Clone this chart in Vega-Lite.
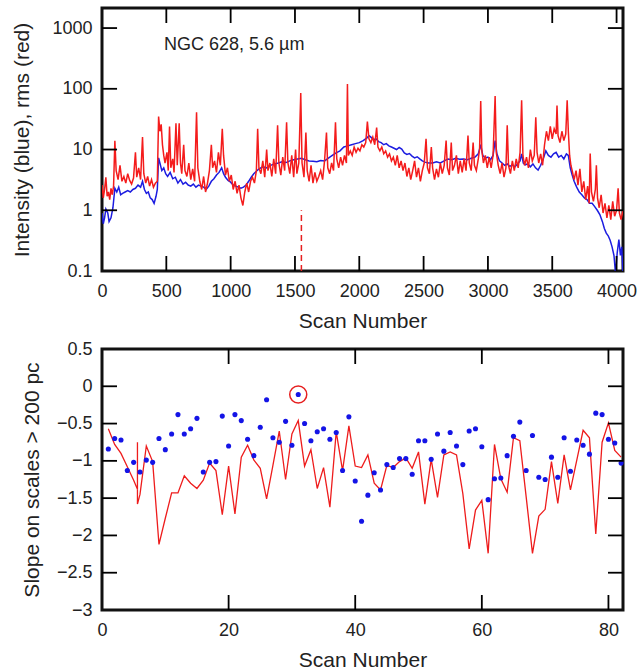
{
  "$schema": "https://vega.github.io/schema/vega-lite/v6.json",
  "padding": {"left": 10, "top": 5, "right": 5, "bottom": 2},
  "spacing": 5,
  "config": {
    "font": "Liberation Sans",
    "view": {"stroke": "#111111", "strokeWidth": 3},
    "axis": {
      "labelFont": "Liberation Sans",
      "titleFont": "Liberation Sans",
      "labelFontSize": 18,
      "titleFontSize": 21,
      "titleFontWeight": "normal",
      "labelColor": "#222222",
      "titleColor": "#222222",
      "labelPadding": 10,
      "domain": false,
      "ticks": false,
      "grid": false,
      "labelOverlap": false,
      "labelFlush": false
    }
  },
  "datasets": {
    "blue": [
      {"s":0,"v":0.9},{"s":10,"v":0.6},{"s":20,"v":0.75},{"s":30,"v":1.05},{"s":45,"v":0.9},{"s":55,"v":0.65},{"s":70,"v":0.75},{"s":85,"v":1.1},{"s":100,"v":2.3},{"s":115,"v":2.0},{"s":130,"v":2.4},{"s":145,"v":1.8},{"s":160,"v":1.9},{"s":180,"v":2.0},{"s":200,"v":2.1},{"s":220,"v":2.0},{"s":240,"v":2.2},{"s":260,"v":2.3},{"s":280,"v":2.6},{"s":300,"v":2.4},{"s":315,"v":3.0},{"s":330,"v":2.2},{"s":345,"v":1.9},{"s":360,"v":2.0},{"s":375,"v":1.6},{"s":390,"v":1.5},{"s":405,"v":1.3},{"s":420,"v":1.7},{"s":430,"v":2.2},{"s":440,"v":7.3},{"s":450,"v":6.0},{"s":465,"v":4.5},{"s":480,"v":5.0},{"s":495,"v":4.0},{"s":510,"v":3.6},{"s":530,"v":4.2},{"s":550,"v":3.3},{"s":570,"v":3.5},{"s":590,"v":2.8},{"s":610,"v":3.2},{"s":630,"v":2.7},{"s":650,"v":2.9},{"s":670,"v":2.6},{"s":690,"v":2.5},{"s":710,"v":2.7},{"s":730,"v":2.4},{"s":750,"v":2.6},{"s":770,"v":2.5},{"s":790,"v":2.4},{"s":810,"v":2.2},{"s":830,"v":2.5},{"s":850,"v":3.0},{"s":870,"v":3.3},{"s":890,"v":3.8},{"s":910,"v":4.2},{"s":930,"v":5.0},{"s":945,"v":4.0},{"s":960,"v":3.5},{"s":980,"v":3.1},{"s":1000,"v":2.9},{"s":1020,"v":2.6},{"s":1040,"v":2.5},{"s":1060,"v":2.4},{"s":1080,"v":2.3},{"s":1100,"v":2.4},{"s":1120,"v":2.6},{"s":1140,"v":3.0},{"s":1160,"v":3.5},{"s":1180,"v":4.0},{"s":1200,"v":4.4},{"s":1220,"v":4.8},{"s":1250,"v":5.2},{"s":1280,"v":5.0},{"s":1310,"v":5.5},{"s":1340,"v":5.8},{"s":1370,"v":6.0},{"s":1400,"v":6.3},{"s":1430,"v":6.1},{"s":1460,"v":6.5},{"s":1490,"v":6.8},{"s":1520,"v":7.0},{"s":1550,"v":7.2},{"s":1580,"v":6.8},{"s":1610,"v":6.5},{"s":1640,"v":6.4},{"s":1670,"v":6.3},{"s":1700,"v":6.6},{"s":1730,"v":6.5},{"s":1760,"v":7.2},{"s":1790,"v":8.0},{"s":1820,"v":8.8},{"s":1850,"v":9.5},{"s":1880,"v":11},{"s":1910,"v":11.5},{"s":1940,"v":12},{"s":1970,"v":12.5},{"s":2000,"v":13},{"s":2030,"v":14},{"s":2060,"v":15.5},{"s":2075,"v":17},{"s":2090,"v":16},{"s":2110,"v":14.5},{"s":2130,"v":15},{"s":2150,"v":13.5},{"s":2170,"v":13},{"s":2190,"v":12},{"s":2210,"v":12.5},{"s":2230,"v":11.5},{"s":2250,"v":11},{"s":2270,"v":10.5},{"s":2290,"v":10},{"s":2310,"v":10.8},{"s":2330,"v":10.2},{"s":2350,"v":8.8},{"s":2370,"v":8.3},{"s":2390,"v":8.6},{"s":2410,"v":7.8},{"s":2430,"v":7.3},{"s":2450,"v":7.6},{"s":2470,"v":7.0},{"s":2490,"v":6.5},{"s":2510,"v":6.2},{"s":2540,"v":6.0},{"s":2570,"v":6.0},{"s":2600,"v":6.3},{"s":2630,"v":6.0},{"s":2660,"v":6.5},{"s":2690,"v":7.0},{"s":2720,"v":6.8},{"s":2750,"v":7.2},{"s":2780,"v":6.9},{"s":2810,"v":7.0},{"s":2840,"v":6.8},{"s":2870,"v":7.2},{"s":2900,"v":7.5},{"s":2925,"v":8.5},{"s":2944,"v":12},{"s":2960,"v":8.0},{"s":2980,"v":7.2},{"s":3000,"v":7.5},{"s":3020,"v":6.8},{"s":3040,"v":8.0},{"s":3056,"v":14},{"s":3070,"v":8.5},{"s":3090,"v":6.5},{"s":3110,"v":6.0},{"s":3130,"v":5.5},{"s":3150,"v":5.8},{"s":3170,"v":5.3},{"s":3190,"v":5.6},{"s":3210,"v":5.2},{"s":3230,"v":5.8},{"s":3250,"v":6.5},{"s":3262,"v":8.5},{"s":3275,"v":6.0},{"s":3290,"v":5.6},{"s":3310,"v":5.8},{"s":3330,"v":5.2},{"s":3350,"v":5.8},{"s":3370,"v":5.0},{"s":3390,"v":4.6},{"s":3410,"v":5.5},{"s":3430,"v":7.0},{"s":3450,"v":9.5},{"s":3470,"v":8.0},{"s":3490,"v":7.5},{"s":3510,"v":8.5},{"s":3530,"v":9.0},{"s":3550,"v":7.5},{"s":3570,"v":8.0},{"s":3590,"v":7.0},{"s":3610,"v":8.5},{"s":3625,"v":8.0},{"s":3640,"v":5.0},{"s":3655,"v":3.8},{"s":3670,"v":3.0},{"s":3690,"v":2.4},{"s":3710,"v":2.0},{"s":3730,"v":1.8},{"s":3750,"v":1.6},{"s":3770,"v":1.5},{"s":3790,"v":1.3},{"s":3810,"v":1.3},{"s":3830,"v":1.15},{"s":3850,"v":1.0},{"s":3870,"v":0.85},{"s":3890,"v":0.65},{"s":3905,"v":0.5},{"s":3920,"v":0.42},{"s":3935,"v":0.38},{"s":3950,"v":0.32},{"s":3965,"v":0.25},{"s":3980,"v":0.18},{"s":3992,"v":0.09},{"s":4005,"v":0.2},{"s":4018,"v":0.33},{"s":4030,"v":0.18},{"s":4040,"v":0.25},{"s":4050,"v":0.09}
    ],
    "red": [
      {"s":0,"v":2.6},{"s":10,"v":1.6},{"s":20,"v":2.2},{"s":30,"v":3.5},{"s":40,"v":1.7},{"s":50,"v":2.0},{"s":60,"v":1.5},{"s":70,"v":2.3},{"s":80,"v":1.8},{"s":90,"v":2.5},{"s":100,"v":14},{"s":110,"v":4.5},{"s":125,"v":3.2},{"s":140,"v":5.5},{"s":155,"v":3.0},{"s":170,"v":3.6},{"s":185,"v":2.8},{"s":200,"v":4.0},{"s":215,"v":3.1},{"s":230,"v":2.7},{"s":245,"v":3.4},{"s":260,"v":9},{"s":270,"v":3.5},{"s":285,"v":5.0},{"s":300,"v":3.2},{"s":315,"v":16},{"s":325,"v":4.0},{"s":340,"v":2.8},{"s":355,"v":3.6},{"s":370,"v":2.5},{"s":385,"v":3.2},{"s":400,"v":2.4},{"s":415,"v":2.8},{"s":430,"v":3.0},{"s":440,"v":35},{"s":450,"v":20},{"s":460,"v":26},{"s":470,"v":12},{"s":480,"v":8},{"s":490,"v":6},{"s":505,"v":9.0},{"s":515,"v":4.5},{"s":525,"v":24},{"s":535,"v":5},{"s":550,"v":7},{"s":560,"v":4.2},{"s":575,"v":27},{"s":585,"v":5.5},{"s":600,"v":27},{"s":610,"v":6},{"s":620,"v":4.0},{"s":635,"v":12},{"s":645,"v":4.5},{"s":660,"v":3.6},{"s":675,"v":6.0},{"s":690,"v":3.2},{"s":705,"v":4.8},{"s":720,"v":3.0},{"s":735,"v":41},{"s":745,"v":5},{"s":760,"v":3.0},{"s":775,"v":2.2},{"s":790,"v":3.6},{"s":805,"v":2.0},{"s":820,"v":2.8},{"s":835,"v":4.5},{"s":850,"v":12},{"s":860,"v":5},{"s":875,"v":6.5},{"s":890,"v":4.2},{"s":905,"v":9},{"s":920,"v":5.5},{"s":935,"v":22},{"s":945,"v":8},{"s":960,"v":3.8},{"s":975,"v":5.0},{"s":990,"v":3.0},{"s":1005,"v":3.8},{"s":1020,"v":2.2},{"s":1035,"v":3.0},{"s":1050,"v":1.9},{"s":1065,"v":2.6},{"s":1080,"v":1.6},{"s":1095,"v":1.2},{"s":1110,"v":2.0},{"s":1125,"v":2.8},{"s":1140,"v":2.0},{"s":1155,"v":3.0},{"s":1170,"v":3.5},{"s":1185,"v":2.8},{"s":1200,"v":4.5},{"s":1210,"v":22},{"s":1220,"v":5},{"s":1235,"v":4.0},{"s":1250,"v":6.5},{"s":1265,"v":3.5},{"s":1280,"v":10},{"s":1290,"v":4.5},{"s":1305,"v":6.0},{"s":1320,"v":3.6},{"s":1335,"v":7},{"s":1350,"v":4.0},{"s":1365,"v":25},{"s":1375,"v":6},{"s":1390,"v":3.8},{"s":1405,"v":7.5},{"s":1420,"v":4.5},{"s":1435,"v":28},{"s":1445,"v":6},{"s":1460,"v":4.0},{"s":1475,"v":8},{"s":1490,"v":3.5},{"s":1505,"v":10},{"s":1515,"v":4.0},{"s":1530,"v":6},{"s":1545,"v":85},{"s":1555,"v":6},{"s":1570,"v":3.5},{"s":1585,"v":19},{"s":1595,"v":4.5},{"s":1610,"v":3.0},{"s":1625,"v":5.5},{"s":1640,"v":2.8},{"s":1655,"v":4.2},{"s":1670,"v":3.0},{"s":1685,"v":3.6},{"s":1700,"v":4.5},{"s":1715,"v":3.2},{"s":1730,"v":6.5},{"s":1745,"v":19},{"s":1755,"v":5},{"s":1770,"v":4.0},{"s":1785,"v":6},{"s":1800,"v":4.5},{"s":1815,"v":28},{"s":1825,"v":7},{"s":1840,"v":5.0},{"s":1855,"v":7.5},{"s":1870,"v":5.5},{"s":1885,"v":8},{"s":1900,"v":6},{"s":1908,"v":120},{"s":1915,"v":8},{"s":1930,"v":9.5},{"s":1945,"v":8.0},{"s":1960,"v":11},{"s":1975,"v":9},{"s":1990,"v":10.5},{"s":2005,"v":9.5},{"s":2020,"v":12},{"s":2035,"v":11},{"s":2050,"v":13},{"s":2063,"v":29},{"s":2075,"v":15},{"s":2090,"v":13},{"s":2105,"v":16},{"s":2120,"v":12},{"s":2135,"v":23},{"s":2145,"v":11},{"s":2160,"v":9.5},{"s":2175,"v":11},{"s":2190,"v":8.5},{"s":2205,"v":9.5},{"s":2220,"v":7.5},{"s":2235,"v":8.5},{"s":2250,"v":6.5},{"s":2265,"v":7.5},{"s":2280,"v":5.5},{"s":2295,"v":8},{"s":2310,"v":5.0},{"s":2325,"v":6.5},{"s":2340,"v":4.5},{"s":2355,"v":6.0},{"s":2370,"v":3.6},{"s":2385,"v":5.0},{"s":2400,"v":3.2},{"s":2415,"v":4.5},{"s":2430,"v":6.5},{"s":2445,"v":3.5},{"s":2460,"v":5.0},{"s":2475,"v":3.0},{"s":2490,"v":4.5},{"s":2505,"v":6},{"s":2519,"v":15},{"s":2530,"v":5},{"s":2545,"v":4.0},{"s":2560,"v":11},{"s":2570,"v":5},{"s":2585,"v":3.2},{"s":2600,"v":4.8},{"s":2615,"v":3.5},{"s":2630,"v":6},{"s":2645,"v":4.0},{"s":2660,"v":5.5},{"s":2675,"v":14},{"s":2685,"v":5.0},{"s":2700,"v":3.8},{"s":2715,"v":13},{"s":2725,"v":4.5},{"s":2740,"v":5.5},{"s":2755,"v":8},{"s":2770,"v":4.0},{"s":2785,"v":6.5},{"s":2800,"v":4.2},{"s":2815,"v":7},{"s":2830,"v":4.5},{"s":2845,"v":17},{"s":2855,"v":6},{"s":2870,"v":4.5},{"s":2885,"v":13},{"s":2895,"v":5.5},{"s":2910,"v":4.5},{"s":2925,"v":7},{"s":2935,"v":10},{"s":2944,"v":63},{"s":2952,"v":10},{"s":2965,"v":6},{"s":2980,"v":8},{"s":2995,"v":5.0},{"s":3010,"v":7.5},{"s":3025,"v":5.0},{"s":3040,"v":8},{"s":3056,"v":76},{"s":3065,"v":9},{"s":3080,"v":5.5},{"s":3095,"v":4.0},{"s":3110,"v":6.0},{"s":3125,"v":3.5},{"s":3140,"v":5.0},{"s":3150,"v":25},{"s":3160,"v":5.5},{"s":3175,"v":4.0},{"s":3190,"v":6.5},{"s":3205,"v":4.5},{"s":3220,"v":7},{"s":3235,"v":5.0},{"s":3250,"v":9},{"s":3262,"v":65},{"s":3272,"v":8},{"s":3285,"v":5.5},{"s":3300,"v":7.5},{"s":3315,"v":5.0},{"s":3330,"v":10},{"s":3345,"v":6.5},{"s":3360,"v":8},{"s":3372,"v":34},{"s":3382,"v":9},{"s":3395,"v":6},{"s":3410,"v":8.5},{"s":3425,"v":5.5},{"s":3440,"v":12},{"s":3455,"v":20},{"s":3470,"v":14},{"s":3485,"v":24},{"s":3500,"v":15},{"s":3515,"v":22},{"s":3530,"v":18},{"s":3537,"v":53},{"s":3545,"v":17},{"s":3560,"v":13},{"s":3575,"v":20},{"s":3590,"v":14},{"s":3605,"v":18},{"s":3616,"v":65},{"s":3625,"v":20},{"s":3635,"v":8},{"s":3645,"v":5.5},{"s":3655,"v":4.5},{"s":3670,"v":3.2},{"s":3685,"v":4.5},{"s":3700,"v":2.6},{"s":3715,"v":4.8},{"s":3730,"v":2.0},{"s":3745,"v":3.0},{"s":3760,"v":1.5},{"s":3775,"v":2.5},{"s":3787,"v":1.3},{"s":3795,"v":8.6},{"s":3805,"v":2.0},{"s":3820,"v":1.4},{"s":3835,"v":2.2},{"s":3843,"v":5.5},{"s":3852,"v":1.6},{"s":3865,"v":1.1},{"s":3880,"v":1.8},{"s":3895,"v":0.9},{"s":3910,"v":1.3},{"s":3925,"v":0.75},{"s":3940,"v":1.2},{"s":3955,"v":0.7},{"s":3970,"v":1.4},{"s":3985,"v":0.8},{"s":4000,"v":1.0},{"s":4012,"v":2.3},{"s":4022,"v":0.9},{"s":4035,"v":0.7},{"s":4050,"v":1.0}
    ],
    "marker": [{"s":1550,"lo":0.1,"hi":1}],
    "note": [{"s":482,"v":525,"t":"NGC 628, 5.6 µm"}],
    "topX": [{"t":500},{"t":1000},{"t":1500},{"t":2000},{"t":2500},{"t":3000},{"t":3500},{"t":4000}],
    "topY": [{"t":1},{"t":10},{"t":100},{"t":1000}],
    "botX": [{"t":20},{"t":40},{"t":60},{"t":80}],
    "botY": [{"t":-2.5},{"t":-2},{"t":-1.5},{"t":-1},{"t":-0.5},{"t":0}],
    "slopeRed": [
      {"i":1,"n":1,"v":-0.57},{"i":2,"n":2,"v":-0.78},{"i":3,"n":3,"v":-0.90},{"i":4,"n":4,"v":-1.08},{"i":5,"n":5,"v":-1.26},{"i":6,"n":5.6,"v":-1.38},{"i":7,"n":5.6,"v":-0.75},{"i":8,"n":5.6,"v":-1.58},{"i":9,"n":6,"v":-1.45},{"i":10,"n":7,"v":-0.80},{"i":11,"n":8,"v":-1.01},{"i":12,"n":9,"v":-2.12},{"i":13,"n":10,"v":-1.77},{"i":14,"n":11,"v":-1.43},{"i":15,"n":12,"v":-1.43},{"i":16,"n":13,"v":-1.20},{"i":17,"n":14,"v":-1.30},{"i":18,"n":15,"v":-1.37},{"i":19,"n":16,"v":-1.26},{"i":20,"n":17,"v":-1.03},{"i":21,"n":18,"v":-1.13},{"i":22,"n":19,"v":-1.72},{"i":23,"n":20,"v":-1.07},{"i":24,"n":21,"v":-1.71},{"i":25,"n":22,"v":-0.95},{"i":26,"n":23,"v":-0.79},{"i":27,"n":24,"v":-0.99},{"i":28,"n":25,"v":-1.10},{"i":29,"n":26,"v":-1.51},{"i":30,"n":27,"v":-1.06},{"i":31,"n":28,"v":-0.60},{"i":32,"n":29,"v":-1.25},{"i":33,"n":30,"v":-0.64},{"i":34,"n":31,"v":-0.46},{"i":35,"n":32,"v":-1.07},{"i":36,"n":33,"v":-0.85},{"i":37,"n":34,"v":-1.37},{"i":38,"n":35,"v":-1.09},{"i":39,"n":36,"v":-1.62},{"i":40,"n":37,"v":-0.61},{"i":41,"n":38,"v":-1.13},{"i":42,"n":39,"v":-0.53},{"i":43,"n":40,"v":-1.07},{"i":44,"n":41,"v":-1.09},{"i":45,"n":42,"v":-0.92},{"i":46,"n":43,"v":-1.30},{"i":47,"n":44,"v":-1.39},{"i":48,"n":45,"v":-1.06},{"i":49,"n":46,"v":-1.09},{"i":50,"n":47,"v":-1.01},{"i":51,"n":48,"v":-0.96},{"i":52,"n":49,"v":-1.10},{"i":53,"n":50,"v":-0.88},{"i":54,"n":51,"v":-1.58},{"i":55,"n":52,"v":-0.98},{"i":56,"n":53,"v":-1.49},{"i":57,"n":54,"v":-0.92},{"i":58,"n":55,"v":-0.88},{"i":59,"n":56,"v":-0.92},{"i":60,"n":57,"v":-1.44},{"i":61,"n":58,"v":-2.18},{"i":62,"n":59,"v":-1.66},{"i":63,"n":60,"v":-1.53},{"i":64,"n":61,"v":-2.24},{"i":65,"n":62,"v":-0.78},{"i":66,"n":63,"v":-1.24},{"i":67,"n":64,"v":-1.42},{"i":68,"n":65,"v":-0.69},{"i":69,"n":66,"v":-0.73},{"i":70,"n":67,"v":-1.48},{"i":71,"n":68,"v":-2.24},{"i":72,"n":69,"v":-1.74},{"i":73,"n":70,"v":-1.65},{"i":74,"n":71,"v":-1.01},{"i":75,"n":72,"v":-1.57},{"i":76,"n":73,"v":-0.92},{"i":77,"n":74,"v":-1.39},{"i":78,"n":75,"v":-0.99},{"i":79,"n":76,"v":-0.59},{"i":80,"n":77,"v":-0.69},{"i":81,"n":78,"v":-1.98},{"i":82,"n":79,"v":-0.75},{"i":83,"n":80,"v":-0.49},{"i":84,"n":81,"v":-0.86},{"i":85,"n":82,"v":-0.95}
    ],
    "slopeBlue": [
      {"n":1,"v":-0.84},{"n":2,"v":-0.70},{"n":3,"v":-0.72},{"n":4,"v":-1.13},{"n":5,"v":-1.02},{"n":6,"v":-1.15},{"n":7,"v":-0.99},{"n":8,"v":-1.02},{"n":9,"v":-0.70},{"n":10,"v":-0.85},{"n":11,"v":-0.64},{"n":12,"v":-0.38},{"n":13,"v":-0.64},{"n":14,"v":-0.57},{"n":15,"v":-0.43},{"n":16,"v":-1.15},{"n":17,"v":-1.02},{"n":18,"v":-1.01},{"n":19,"v":-0.40},{"n":20,"v":-0.80},{"n":21,"v":-0.38},{"n":22,"v":-0.46},{"n":23,"v":-0.71},{"n":24,"v":-0.93},{"n":25,"v":-0.55},{"n":26,"v":-0.18},{"n":27,"v":-0.69},{"n":28,"v":-0.75},{"n":29,"v":-0.47},{"n":30,"v":-0.79},{"n":31,"v":-0.11},{"n":32,"v":-0.50},{"n":33,"v":-0.73},{"n":34,"v":-0.61},{"n":35,"v":-0.57},{"n":36,"v":-0.71},{"n":37,"v":-0.62},{"n":38,"v":-1.13},{"n":39,"v":-0.41},{"n":40,"v":-1.27},{"n":41,"v":-1.81},{"n":42,"v":-1.46},{"n":43,"v":-1.16},{"n":44,"v":-1.39},{"n":45,"v":-1.05},{"n":46,"v":-1.09},{"n":47,"v":-0.97},{"n":48,"v":-0.97},{"n":49,"v":-1.18},{"n":50,"v":-0.73},{"n":51,"v":-0.73},{"n":52,"v":-0.98},{"n":53,"v":-0.64},{"n":54,"v":-0.87},{"n":55,"v":-0.62},{"n":56,"v":-0.80},{"n":57,"v":-1.05},{"n":58,"v":-0.60},{"n":59,"v":-0.57},{"n":60,"v":-0.81},{"n":61,"v":-1.52},{"n":62,"v":-1.24},{"n":63,"v":-1.23},{"n":64,"v":-0.93},{"n":65,"v":-0.67},{"n":66,"v":-0.48},{"n":67,"v":-1.13},{"n":68,"v":-0.66},{"n":69,"v":-1.22},{"n":70,"v":-1.25},{"n":71,"v":-0.95},{"n":72,"v":-1.22},{"n":73,"v":-0.69},{"n":74,"v":-1.14},{"n":75,"v":-0.72},{"n":76,"v":-0.79},{"n":77,"v":-0.91},{"n":78,"v":-0.36},{"n":79,"v":-0.38},{"n":80,"v":-0.71},{"n":81,"v":-0.76},{"n":82,"v":-1.03}
    ],
    "ring": [{"n":31,"v":-0.11}]
  },
  "vconcat": [
    {
      "width": 521,
      "height": 263,
      "resolve": {"axis": {"x": "independent", "y": "independent"}},
      "layer": [
        {
          "data": {"name": "blue"},
          "mark": {"type": "line", "color": "#1c1ce0", "strokeWidth": 1.5, "clip": true},
          "encoding": {
            "x": {"field": "s", "type": "quantitative", "scale": {"domain": [0, 4050], "nice": false, "zero": false},
                  "axis": {"orient": "bottom", "title": "Scan Number", "values": [0,500,1000,1500,2000,2500,3000,3500,4000], "format": "d", "labelPadding": 11, "titlePadding": 10}},
            "y": {"field": "v", "type": "quantitative", "scale": {"type": "log", "domain": [0.1, 2140], "nice": false},
                  "axis": {"orient": "left", "title": "Intensity (blue), rms (red)", "values": [0.1,1,10,100,1000], "format": "~g", "titlePadding": 19}}
          }
        },
        {
          "data": {"name": "red"},
          "mark": {"type": "line", "color": "#f41c1c", "strokeWidth": 1.5, "clip": true},
          "encoding": {
            "x": {"field": "s", "type": "quantitative", "axis": null},
            "y": {"field": "v", "type": "quantitative", "axis": null}
          }
        },
        {
          "data": {"name": "marker"},
          "mark": {"type": "rule", "color": "#e62020", "strokeWidth": 1.5, "strokeDash": [6, 4]},
          "encoding": {
            "x": {"field": "s", "type": "quantitative", "axis": null},
            "y": {"field": "lo", "type": "quantitative", "axis": null},
            "y2": {"field": "hi"}
          }
        },
        {
          "data": {"name": "topX"},
          "mark": {"type": "rule", "color": "#000000", "strokeWidth": 1.8},
          "encoding": {
            "x": {"field": "t", "type": "quantitative", "axis": null},
            "y": {"datum": 0.1, "type": "quantitative", "axis": null},
            "y2": {"datum": 0.1766}
          }
        },
        {
          "data": {"name": "topX"},
          "mark": {"type": "rule", "color": "#000000", "strokeWidth": 1.8},
          "encoding": {
            "x": {"field": "t", "type": "quantitative", "axis": null},
            "y": {"datum": 2140, "type": "quantitative", "axis": null},
            "y2": {"datum": 1212}
          }
        },
        {
          "data": {"name": "topY"},
          "mark": {"type": "rule", "color": "#000000", "strokeWidth": 1.8},
          "encoding": {
            "y": {"field": "t", "type": "quantitative", "axis": null},
            "x": {"datum": 0, "type": "quantitative", "axis": null},
            "x2": {"datum": 117}
          }
        },
        {
          "data": {"name": "topY"},
          "mark": {"type": "rule", "color": "#000000", "strokeWidth": 1.8},
          "encoding": {
            "y": {"field": "t", "type": "quantitative", "axis": null},
            "x": {"datum": 4050, "type": "quantitative", "axis": null},
            "x2": {"datum": 3933}
          }
        },
        {
          "data": {"name": "note"},
          "mark": {"type": "text", "align": "left", "baseline": "middle", "fontSize": 18, "color": "#222222", "font": "Liberation Sans"},
          "encoding": {
            "x": {"field": "s", "type": "quantitative", "axis": null},
            "y": {"field": "v", "type": "quantitative", "axis": null},
            "text": {"field": "t"}
          }
        }
      ]
    },
    {
      "width": 521,
      "height": 261,
      "resolve": {"axis": {"x": "independent", "y": "independent"}},
      "layer": [
        {
          "data": {"name": "slopeRed"},
          "mark": {"type": "line", "color": "#ee1c1c", "strokeWidth": 1.3},
          "encoding": {
            "x": {"field": "n", "type": "quantitative", "scale": {"domain": [0, 82.3], "nice": false, "zero": false},
                  "axis": {"orient": "bottom", "title": "Scan Number", "values": [0,20,40,60,80], "labelPadding": 11, "titlePadding": 10}},
            "y": {"field": "v", "type": "quantitative", "scale": {"domain": [-3, 0.5], "nice": false, "zero": false},
                  "axis": {"orient": "left", "title": "Slope on scales > 200 pc", "values": [-3,-2.5,-2,-1.5,-1,-0.5,0,0.5], "format": "~g", "titlePadding": 14}},
            "order": {"field": "i", "type": "quantitative"}
          }
        },
        {
          "data": {"name": "slopeBlue"},
          "mark": {"type": "point", "filled": true, "shape": "circle", "size": 26, "color": "#1414e6", "opacity": 1},
          "encoding": {
            "x": {"field": "n", "type": "quantitative", "axis": null},
            "y": {"field": "v", "type": "quantitative", "axis": null}
          }
        },
        {
          "data": {"name": "ring"},
          "mark": {"type": "point", "filled": false, "shape": "circle", "size": 290, "stroke": "#e62020", "strokeWidth": 1.5, "opacity": 1},
          "encoding": {
            "x": {"field": "n", "type": "quantitative", "axis": null},
            "y": {"field": "v", "type": "quantitative", "axis": null}
          }
        },
        {
          "data": {"name": "botX"},
          "mark": {"type": "rule", "color": "#000000", "strokeWidth": 1.8},
          "encoding": {
            "x": {"field": "t", "type": "quantitative", "axis": null},
            "y": {"datum": -3, "type": "quantitative", "axis": null},
            "y2": {"datum": -2.799}
          }
        },
        {
          "data": {"name": "botX"},
          "mark": {"type": "rule", "color": "#000000", "strokeWidth": 1.8},
          "encoding": {
            "x": {"field": "t", "type": "quantitative", "axis": null},
            "y": {"datum": 0.5, "type": "quantitative", "axis": null},
            "y2": {"datum": 0.299}
          }
        },
        {
          "data": {"name": "botY"},
          "mark": {"type": "rule", "color": "#000000", "strokeWidth": 1.8},
          "encoding": {
            "y": {"field": "t", "type": "quantitative", "axis": null},
            "x": {"datum": 0, "type": "quantitative", "axis": null},
            "x2": {"datum": 2.37}
          }
        },
        {
          "data": {"name": "botY"},
          "mark": {"type": "rule", "color": "#000000", "strokeWidth": 1.8},
          "encoding": {
            "y": {"field": "t", "type": "quantitative", "axis": null},
            "x": {"datum": 82.3, "type": "quantitative", "axis": null},
            "x2": {"datum": 79.93}
          }
        }
      ]
    }
  ]
}
